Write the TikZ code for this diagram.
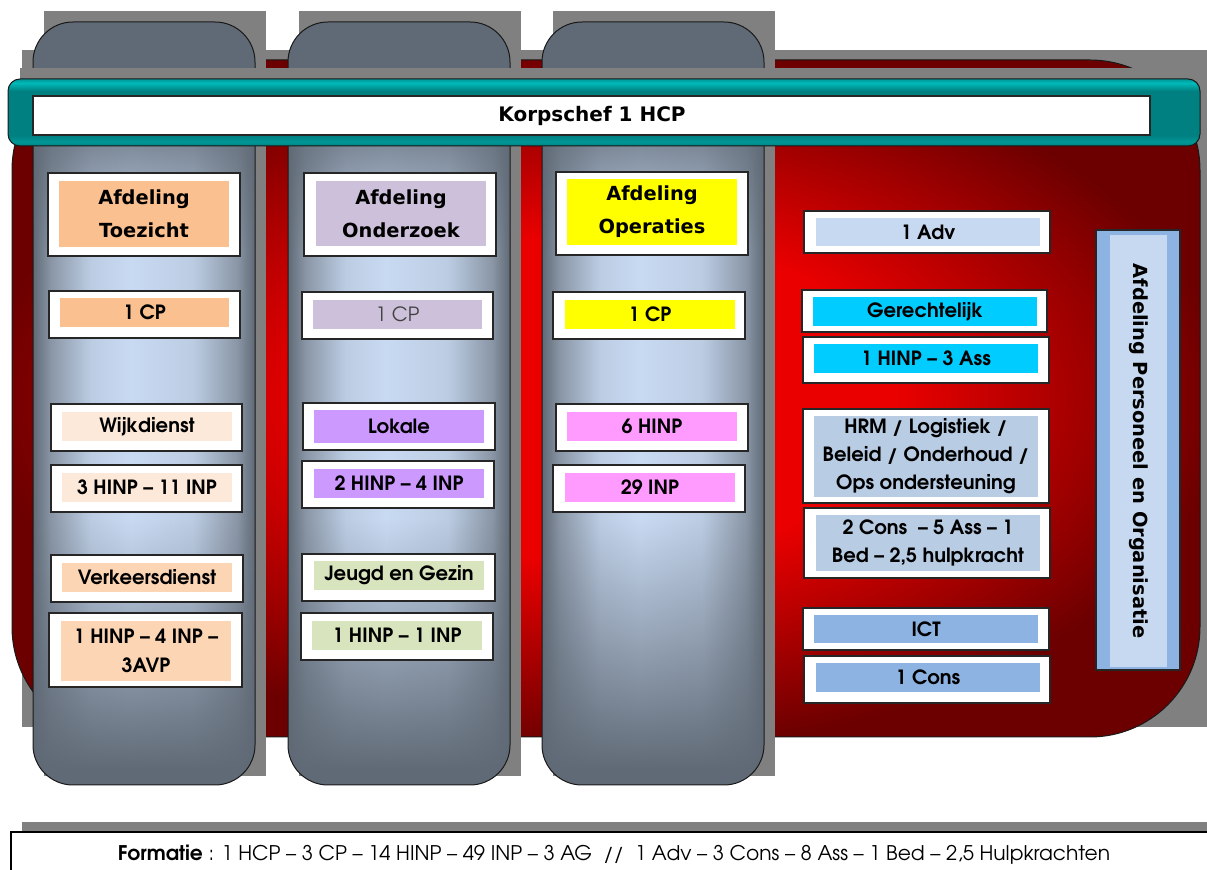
\documentclass[tikz,border=0pt]{standalone}
\usepackage{fontspec}
\setmainfont{DejaVu Sans}
\newfontfamily\gothic{texgyreadventor}[Extension=.otf, UprightFont=*-regular, BoldFont=*-bold]
\usetikzlibrary{fadings}

\definecolor{redhi}{RGB}{235,0,0}
\definecolor{redlo}{RGB}{108,0,0}
\definecolor{coldark}{RGB}{96,106,118}
\definecolor{colmid}{RGB}{138,150,166}
\definecolor{collight}{RGB}{200,218,242}
\definecolor{shadowgray}{RGB}{128,128,128}
\definecolor{tealhi}{RGB}{0,185,185}
\definecolor{tealmid}{RGB}{0,128,128}
\definecolor{tealsoft}{RGB}{0,150,150}
\definecolor{toezicht}{RGB}{250,192,143}
\definecolor{toezlight}{RGB}{253,233,217}
\definecolor{toezmid}{RGB}{252,213,180}
\definecolor{onderzoek}{RGB}{204,192,218}
\definecolor{lokale}{RGB}{204,153,255}
\definecolor{jeugd}{RGB}{215,228,189}
\definecolor{operaties}{RGB}{255,255,0}
\definecolor{opsroze}{RGB}{255,155,255}
\definecolor{advblue}{RGB}{198,217,241}
\definecolor{gerecht}{RGB}{0,204,255}
\definecolor{hrmblue}{RGB}{184,204,228}
\definecolor{ictblue}{RGB}{141,179,226}

\pgfdeclareradialshading{redglow}{\pgfpoint{0bp}{0bp}}{color(0bp)=(redhi); color(12bp)=(redhi); color(26bp)=(redlo); color(50bp)=(redlo)}
\pgfdeclarehorizontalshading{columnshade}{100bp}{color(0bp)=(coldark); color(25bp)=(coldark); color(29bp)=(colmid); color(38bp)=(collight!80!colmid); color(47bp)=(collight); color(61bp)=(collight!80!colmid); color(71bp)=(colmid); color(75bp)=(coldark); color(100bp)=(coldark)}
\pgfdeclareverticalshading{tealshade}{100bp}{color(0bp)=(tealmid); color(25bp)=(tealmid); color(28bp)=(tealsoft); color(33bp)=(tealmid); color(66bp)=(tealmid); color(72bp)=(tealhi); color(75bp)=(tealsoft); color(100bp)=(tealmid)}
\tikzfading[name=fadedown, top color=transparent!0, bottom color=transparent!100]
\tikzfading[name=fadeup, top color=transparent!100, bottom color=transparent!0]

\tikzset{
  outerbox/.style={draw=black!85, fill=white, line width=0.6pt},
  frame/.style={draw=black!90, line width=0.5pt},
  headlbl/.style={font=\bfseries\fontsize{9.7}{16.5}\selectfont, align=center, inner sep=0pt},
  unitlbl/.style={font=\gothic\bfseries\fontsize{9.8}{14}\selectfont, align=center, inner sep=0pt},
  plainlbl/.style={font=\gothic\fontsize{9.8}{14}\selectfont, align=center, inner sep=0pt}
}

\begin{document}
\begin{tikzpicture}[x=0.5pt, y=-0.5pt]
\useasboundingbox (0,0) rectangle (1207,870);

% red back panel
\fill[shadowgray] (22,50) rectangle (1210,727);
\shadedraw[shading=redglow, frame, rounded corners=55pt] (12,60) rectangle (1200,737);

% the three columns
\foreach \cx in {33,288,542} {
  \fill[shadowgray] (\cx+11,11) rectangle (\cx+233,776);
  \begin{scope}
    \clip[rounded corners=20pt] (\cx,22) rectangle (\cx+222,785);
    \fill[coldark] (\cx,22) rectangle (\cx+222,785);
    \shade[shading=columnshade, path fading=fadeup] (\cx,100) rectangle (\cx+222,250);
    \shade[shading=columnshade] (\cx,250) rectangle (\cx+222,520);
    \shade[shading=columnshade, path fading=fadedown] (\cx,520) rectangle (\cx+222,770);
  \end{scope}
  \draw[frame, rounded corners=20pt] (\cx,22) rectangle (\cx+222,785);
}

% top bar
\fill[shadowgray] (20,68) rectangle (1212,136);
\shadedraw[shading=tealshade, frame, rounded corners=6pt] (8,79) rectangle (1200,146);
\draw[outerbox] (33,96) rectangle (1150,135);
\node[headlbl, font=\bfseries\fontsize{10}{12}\selectfont] (korps) at (592,116) {Korpschef 1 HCP};

% Toezicht
\draw[outerbox] (48,173) rectangle (240,256);
\fill[toezicht] (59,181) rectangle (229,247);
\node[headlbl] (toezHead) at (144,214) {Afdeling\\Toezicht};
\draw[outerbox] (49,291) rectangle (240,338);
\fill[toezicht] (60,298) rectangle (229,327);
\node[unitlbl] (toezCP) at (144.5,312.5) {1 CP};
\draw[outerbox] (51,404) rectangle (242,451);
\fill[toezlight] (62,412) rectangle (232,441);
\node[unitlbl] (wijk) at (147,426.5) {Wijkdienst};
\draw[outerbox] (51,465) rectangle (242,512);
\fill[toezlight] (62,473) rectangle (232,502);
\node[unitlbl] (wijkStaff) at (147,487.5) {3 HINP – 11 INP};
\draw[outerbox] (51,555) rectangle (243,602);
\fill[toezmid] (62,563) rectangle (232,592);
\node[unitlbl] (verkeer) at (147,577.5) {Verkeersdienst};
\draw[outerbox] (49,613) rectangle (242,687);
\fill[toezmid] (61,621) rectangle (231,681);
\node[unitlbl, font=\gothic\bfseries\fontsize{9.8}{14.5}\selectfont] (verkeerStaff) at (146,651) {1 HINP – 4 INP –\\3AVP};

% Onderzoek
\draw[outerbox] (304,173) rectangle (496,256);
\fill[onderzoek] (316,181) rectangle (486,246);
\node[headlbl] (onderHead) at (401,213.5) {Afdeling\\Onderzoek};
\draw[outerbox] (302,292) rectangle (493,339);
\fill[onderzoek] (313,300) rectangle (482,329);
\node[plainlbl, text=black!75] (onderCP) at (397.5,314.5) {1 CP};
\draw[outerbox] (303,403) rectangle (495,450);
\fill[lokale] (314,410) rectangle (484,443);
\node[unitlbl] (lokale) at (399,426.5) {Lokale};
\draw[outerbox] (302,461) rectangle (494,508);
\fill[lokale] (314,469) rectangle (484,498);
\node[unitlbl] (lokaleStaff) at (399,483.5) {2 HINP – 4 INP};
\draw[outerbox] (302,554) rectangle (495,601);
\fill[jeugd] (314,561) rectangle (484,590);
\node[unitlbl] (jeugd) at (399,575.5) {Jeugd en Gezin};
\draw[outerbox] (301,613) rectangle (493,660);
\fill[jeugd] (312,621) rectangle (482,650);
\node[unitlbl] (jeugdStaff) at (397,635.5) {1 HINP – 1 INP};

% Operaties
\draw[outerbox] (556,172) rectangle (748,255);
\fill[operaties] (567,179) rectangle (737,245);
\node[headlbl] (operHead) at (652,212) {Afdeling\\Operaties};
\draw[outerbox] (553,292) rectangle (745,339);
\fill[operaties] (565,300) rectangle (735,329);
\node[unitlbl] (operCP) at (650,314.5) {1 CP};
\draw[outerbox] (556,404) rectangle (748,451);
\fill[opsroze] (567,412) rectangle (737,441);
\node[unitlbl] (operHinp) at (652,426.5) {6 HINP};
\draw[outerbox] (553,465) rectangle (745,512);
\fill[opsroze] (565,473) rectangle (735,502);
\node[unitlbl] (operInp) at (650,487.5) {29 INP};

% Personeel en Organisatie
\draw[outerbox] (804,211) rectangle (1050,253);
\fill[advblue] (816,218) rectangle (1040,246);
\node[unitlbl] (adv) at (928,232) {1 Adv};
\draw[outerbox] (802,290) rectangle (1047,332);
\fill[gerecht] (813,297) rectangle (1037,326);
\node[unitlbl] (gerecht) at (925,311.5) {Gerechtelijk};
\draw[outerbox] (803,337) rectangle (1049,383);
\fill[gerecht] (814,344) rectangle (1038,373);
\node[unitlbl] (gerechtStaff) at (926,358.5) {1 HINP – 3 Ass};
\draw[outerbox] (803,409) rectangle (1049,503);
\fill[hrmblue] (814,416) rectangle (1038,497);
\node[unitlbl] (hrm) at (926,456.5) {HRM / Logistiek /\\Beleid / Onderhoud /\\Ops ondersteuning};
\draw[outerbox] (804,508) rectangle (1050,578);
\fill[hrmblue] (816,515) rectangle (1040,571);
\node[unitlbl] (hrmStaff) at (928,543) {2 Cons~ – 5 Ass – 1\\Bed – 2,5 hulpkracht};
\draw[outerbox] (803,608) rectangle (1049,650);
\fill[ictblue] (814,615) rectangle (1038,643);
\node[unitlbl] (ict) at (926,629) {ICT};
\draw[outerbox] (804,656) rectangle (1050,703);
\fill[ictblue] (816,663) rectangle (1040,692);
\node[unitlbl] (ictStaff) at (928,677.5) {1 Cons};
\draw[outerbox, fill=ictblue] (1096,230) rectangle (1180,670);
\fill[advblue] (1110,235) rectangle (1167,667);
\node[headlbl, rotate=-90] (pando) at (1138.5,451) {Afdeling Personeel en Organisatie};

% formatie
\fill[shadowgray] (22,822) rectangle (1207,832);
\filldraw[fill=white, draw=black, line width=0.6pt] (1215,880) -- (1215,832) -- (11,832) -- (11,880) -- cycle;
\node[plainlbl, font=\gothic\fontsize{10.1}{14}\selectfont] (formatie) at (614,855) {\textbf{Formatie} : 1 HCP – 3 CP – 14 HINP – 49 INP – 3 AG~ //~ 1 Adv – 3 Cons – 8 Ass – 1 Bed – 2,5 Hulpkrachten};
\end{tikzpicture}
\end{document}
